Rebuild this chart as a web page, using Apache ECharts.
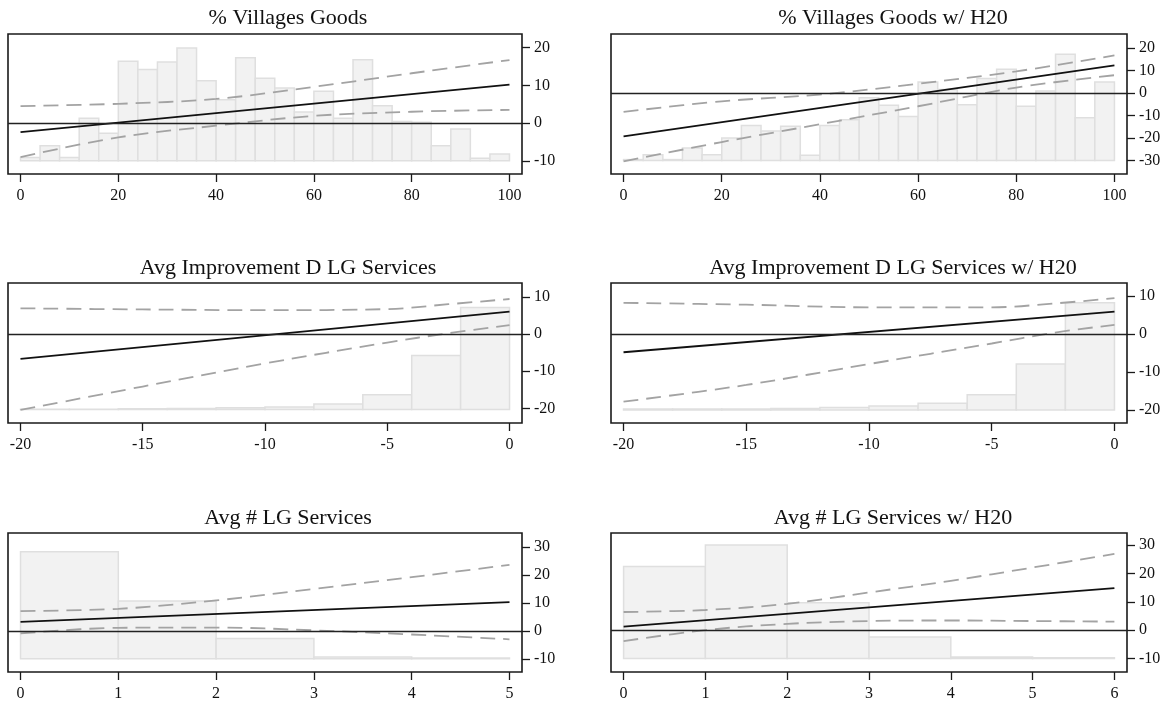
<!DOCTYPE html>
<html>
<head>
<meta charset="utf-8">
<script src="https://cdn.jsdelivr.net/npm/echarts@6/dist/echarts.min.js"></script>
<style>
html,body{margin:0;padding:0;background:#fff;}
#c{width:1167px;height:705px;}
</style>
</head>
<body>
<div id="c"></div>
<script>
// ---------- data ----------
const titles = ["% Villages Goods", "% Villages Goods w/ H20",
  "Avg Improvement D LG Services", "Avg Improvement D LG Services w/ H20",
  "Avg # LG Services", "Avg # LG Services w/ H20"];

// Panel 1: % Villages Goods
const p1Edges = [0,4,8,12,16,20,24,28,32,36,40,44,48,52,56,60,64,68,72,76,80,84,88,92,96,100];
const p1Tops = [-9.1,-6.0,-9.1,1.3,-2.7,16.4,14.2,16.2,19.9,11.2,6.2,17.3,11.9,9.3,2.9,8.4,1.3,16.8,4.6,0.4,0.2,-6.0,-1.6,-9.3,-8.2];
const p1Base = -10;
const p1Fit = [[0,-2.4],[100,10.2]];
const p1Upper = [[0,4.5],[20,5.1],[40,6.4],[60,9.6],[80,13.2],[100,16.7]];
const p1Lower = [[0,-9.0],[20,-3.8],[40,-0.7],[60,1.9],[80,3.0],[100,3.5]];
const p1XTicks = [0,20,40,60,80,100];
const p1YTicks = [-10,0,10,20];

// Panel 2: % Villages Goods w/ H20
const p2Edges = [0,4,8,12,16,20,24,28,32,36,40,44,48,52,56,60,64,68,72,76,80,84,88,92,96,100];
const p2Tops = [-29.6,-27.4,-29.6,-24.4,-27.4,-20.0,-14.4,-16.9,-14.8,-27.7,-14.4,-11.9,-2.1,-5.5,-10.4,4.9,1.5,-5.2,6.4,10.5,-5.9,0.9,17.2,-11.0,4.9];
const p2Base = -30;
const p2Fit = [[0,-19.3],[100,12.3]];
const p2Upper = [[0,-8.4],[20,-3.7],[40,-0.7],[60,4.1],[80,9.6],[100,16.7]];
const p2Lower = [[0,-30.4],[20,-21.8],[40,-13.9],[60,-5.9],[80,2.4],[100,7.9]];
const p2XTicks = [0,20,40,60,80,100];
const p2YTicks = [-30,-20,-10,0,10,20];

// Panel 3: Avg Improvement D LG Services
const p3Edges = [-20,-18,-16,-14,-12,-10,-8,-6,-4,-2,0];
const p3Tops = [-20.2,-20.2,-20.1,-20.0,-19.8,-19.6,-18.8,-16.3,-5.8,7.1];
const p3Base = -20.3;
const p3Fit = [[-20,-6.7],[0,6.0]];
const p3Upper = [[-20,6.9],[-15,6.6],[-10,6.4],[-5,6.7],[-2.5,8.0],[0,9.4]];
const p3Lower = [[-20,-20.4],[-15,-14.1],[-10,-7.9],[-5,-2.3],[-2.5,0.2],[0,2.4]];
const p3XTicks = [-20,-15,-10,-5,0];
const p3YTicks = [-20,-10,0,10];

// Panel 4: Avg Improvement D LG Services w/ H20
const p4Edges = [-20,-18,-16,-14,-12,-10,-8,-6,-4,-2,0];
const p4Tops = [-19.7,-19.7,-19.7,-19.6,-19.3,-18.9,-18.2,-16.0,-7.9,8.2];
const p4Base = -20;
const p4Fit = [[-20,-4.8],[0,5.9]];
const p4Upper = [[-20,8.2],[-15,7.7],[-10,7.0],[-5,7.0],[-2.5,8.0],[0,9.4]];
const p4Lower = [[-20,-17.8],[-15,-13.4],[-10,-7.9],[-5,-2.5],[-2.5,0.3],[0,2.4]];
const p4XTicks = [-20,-15,-10,-5,0];
const p4YTicks = [-20,-10,0,10];

// Panel 5: Avg # LG Services
const p5Edges = [0,1,2,3,4,5];
const p5Tops = [28.3,10.7,-2.7,-9.3,-9.7];
const p5Base = -10;
const p5Fit = [[0,3.2],[5,10.3]];
const p5Upper = [[0,7.1],[1,7.9],[2,10.9],[3,15.0],[4,19.2],[5,23.6]];
const p5Lower = [[0,-0.9],[1,1.1],[2,1.2],[3,0.2],[4,-1.3],[5,-3.0]];
const p5XTicks = [0,1,2,3,4,5];
const p5YTicks = [-10,0,10,20,30];

// Panel 6: Avg # LG Services w/ H20
const p6Edges = [0,1,2,3,4,5,6];
const p6Tops = [22.5,30.1,9.7,-2.4,-9.5,-9.8];
const p6Base = -10;
const p6Fit = [[0,1.2],[6,14.8]];
const p6Upper = [[0,6.4],[1,7.1],[2,9.3],[3,13.3],[4,17.4],[5,22.1],[6,26.9]];
const p6Lower = [[0,-3.9],[1,0.0],[2,2.2],[3,3.2],[4,3.4],[5,3.2],[6,3.0]];
const p6XTicks = [0,1,2,3,4,5,6];
const p6YTicks = [-10,0,10,20,30];

// ---------- layout ----------
const panels = [
  {edges:p1Edges, tops:p1Tops, base:p1Base, fit:p1Fit, up:p1Upper, lo:p1Lower, xt:p1XTicks, yt:p1YTicks, xr:[-2.56,102.56], yr:[-13.5,23.6]},
  {edges:p2Edges, tops:p2Tops, base:p2Base, fit:p2Fit, up:p2Upper, lo:p2Lower, xt:p2XTicks, yt:p2YTicks, xr:[-2.56,102.56], yr:[-36,26.2]},
  {edges:p3Edges, tops:p3Tops, base:p3Base, fit:p3Fit, up:p3Upper, lo:p3Lower, xt:p3XTicks, yt:p3YTicks, xr:[-20.51,0.51], yr:[-23.9,13.7]},
  {edges:p4Edges, tops:p4Tops, base:p4Base, fit:p4Fit, up:p4Upper, lo:p4Lower, xt:p4XTicks, yt:p4YTicks, xr:[-20.51,0.51], yr:[-23.4,13.4]},
  {edges:p5Edges, tops:p5Tops, base:p5Base, fit:p5Fit, up:p5Upper, lo:p5Lower, xt:p5XTicks, yt:p5YTicks, xr:[-0.128,5.128], yr:[-14.7,35]},
  {edges:p6Edges, tops:p6Tops, base:p6Base, fit:p6Fit, up:p6Upper, lo:p6Lower, xt:p6XTicks, yt:p6YTicks, xr:[-0.154,6.154], yr:[-14.8,34.3]}
];
const colLeft = [8, 611], colWidth = [514, 516];
const rowTop = [34, 283, 533], rowHeight = [140, 140, 139];
const titleX = [288, 893], titleTop = [7, 257, 507];

const FONT = "'Liberation Serif', 'Times New Roman', serif";
const grids = [], xAxes = [], yAxes = [], series = [], titleOpts = [];

panels.forEach((p, i) => {
  const col = i % 2, row = Math.floor(i / 2);
  grids.push({left: colLeft[col], top: rowTop[row], width: colWidth[col], height: rowHeight[row],
    show: true, borderColor: '#1a1a1a', borderWidth: 1.6, backgroundColor: 'transparent', containLabel: false});
  titleOpts.push({text: titles[i], left: titleX[col], top: titleTop[row], textAlign: 'center', padding: 0,
    textStyle: {fontFamily: FONT, fontSize: 22, fontWeight: 'normal', color: '#111'}});
  xAxes.push({type: 'value', gridIndex: i, min: p.xr[0], max: p.xr[1], position: 'bottom',
    axisLine: {show: false, onZero: false}, splitLine: {show: false},
    axisTick: {show: true, length: 8, customValues: p.xt, lineStyle: {color: '#1a1a1a', width: 1.3}},
    axisLabel: {show: true, customValues: p.xt, margin: 14, fontFamily: FONT, fontSize: 16, color: '#111',
      formatter: v => String(v)}});
  yAxes.push({type: 'value', gridIndex: i, position: 'right', min: p.yr[0], max: p.yr[1],
    axisLine: {show: false, onZero: false}, splitLine: {show: false},
    axisTick: {show: true, length: 8, customValues: p.yt, lineStyle: {color: '#1a1a1a', width: 1.3}},
    axisLabel: {show: true, customValues: p.yt, margin: 12, fontFamily: FONT, fontSize: 16, color: '#111',
      formatter: v => String(v)}});

  const barData = p.tops.map((t, k) => [p.edges[k], p.edges[k + 1], t, p.base]);
  series.push({type: 'custom', xAxisIndex: i, yAxisIndex: i, z: 1, silent: true,
    data: barData, encode: {x: [0, 1], y: [2, 3]},
    renderItem: function (params, api) {
      const a = api.coord([api.value(0), api.value(2)]);
      const b = api.coord([api.value(1), api.value(3)]);
      return {type: 'rect', shape: {x: a[0], y: a[1], width: b[0] - a[0], height: b[1] - a[1]},
        style: {fill: '#f2f2f2', stroke: '#dfdfdf', lineWidth: 1.5}};
    }});
  series.push({type: 'line', xAxisIndex: i, yAxisIndex: i, z: 3, data: p.up, smooth: 0.35, symbol: 'none', silent: true,
    lineStyle: {color: '#a3a3a3', width: 1.8, type: [15, 8]}});
  series.push({type: 'line', xAxisIndex: i, yAxisIndex: i, z: 3, data: p.lo, smooth: 0.35, symbol: 'none', silent: true,
    lineStyle: {color: '#a3a3a3', width: 1.8, type: [15, 8]}});
  series.push({type: 'line', xAxisIndex: i, yAxisIndex: i, z: 4, data: p.fit, symbol: 'none', silent: true,
    lineStyle: {color: '#111', width: 1.8},
    markLine: {silent: true, symbol: ['none', 'none'], label: {show: false}, animation: false,
      lineStyle: {color: '#222', width: 1.3, type: 'solid'}, data: [{yAxis: 0}]}});
});

const chart = echarts.init(document.getElementById('c'), null, {renderer: 'canvas'});
chart.setOption({animation: false, backgroundColor: '#fff', title: titleOpts,
  grid: grids, xAxis: xAxes, yAxis: yAxes, series: series});
</script>
</body>
</html>
